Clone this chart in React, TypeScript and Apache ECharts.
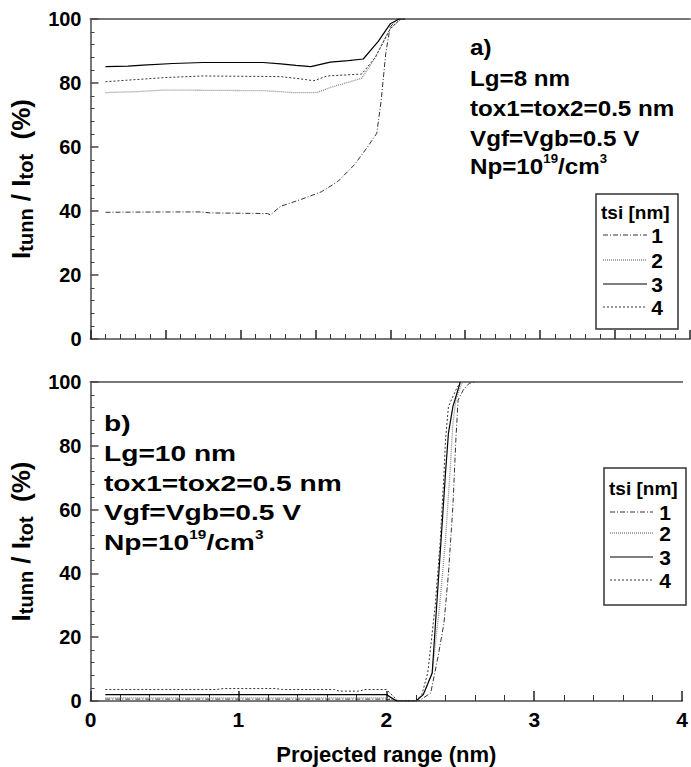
import React, { useEffect, useRef } from 'react';
import * as echarts from 'echarts';

const FONT = '"Liberation Sans", Arial, Helvetica, sans-serif';

// ---- data ----
const tsiLabels = ['1', '2', '3', '4'];
const legendTitle = 'tsi [nm]';
const xTitle = 'Projected range (nm)';
const yTitleRich = '{b|I}{s|tunn}{b| / I}{s|tot}{b|  (%)}';

// panel a) Lg = 8 nm
const aTsi1: number[][] = [
  [0.1, 39.6], [0.5, 39.7], [0.74, 39.7], [0.8, 39.4], [1.18, 39.2], [1.2, 38.8], [1.27, 41.5],
  [1.41, 43.7], [1.54, 46.0], [1.65, 49.2], [1.76, 54.4], [1.85, 60.1], [1.91, 64.3], [1.94, 74.7],
  [1.97, 89.3], [2.0, 97.6], [2.05, 100], [2.1, 100],
];
const aTsi2: number[][] = [
  [0.1, 77.0], [0.3, 77.3], [0.5, 77.8], [1.16, 77.6], [1.36, 77.0], [1.51, 77.0], [1.6, 78.6],
  [1.81, 81.5], [1.9, 88.0], [2.0, 97.0], [2.07, 100], [2.1, 100],
];
const aTsi3: number[][] = [
  [0.1, 85.1], [0.25, 85.3], [0.35, 85.6], [0.55, 86.1], [0.75, 86.4], [1.15, 86.4], [1.27, 86.0],
  [1.37, 85.5], [1.47, 85.1], [1.6, 86.5], [1.72, 87.0], [1.82, 87.5], [1.92, 93.0], [2.0, 98.5],
  [2.06, 100], [2.1, 100],
];
const aTsi4: number[][] = [
  [0.1, 80.4], [0.25, 80.9], [0.5, 81.7], [0.75, 82.2], [1.27, 82.0], [1.4, 81.3], [1.49, 80.7],
  [1.58, 82.2], [1.81, 82.8], [1.9, 88.0], [2.0, 97.0], [2.07, 100], [2.1, 100],
];

// panel b) Lg = 10 nm
const bTsi1: number[][] = [
  [0.1, 0.6], [1.0, 0.6], [2.0, 0.6], [2.08, 0], [2.22, 0], [2.3, 2.5], [2.35, 14], [2.39, 24.5],
  [2.42, 40], [2.45, 61], [2.47, 81.8], [2.485, 94.3], [2.52, 97.5], [2.56, 99.6], [2.6, 100],
];
const bTsi2: number[][] = [
  [0.1, 1.0], [2.0, 1.0], [2.08, 0], [2.21, 0], [2.26, 3], [2.31, 8.8], [2.36, 29.7], [2.4, 50.5],
  [2.43, 71.4], [2.45, 87], [2.47, 94.3], [2.51, 99.6], [2.52, 100],
];
const bTsi3: number[][] = [
  [0.1, 2.0], [2.0, 2.0], [2.07, 0], [2.2, 0], [2.25, 2], [2.31, 8.8], [2.34, 29.7], [2.37, 50.5],
  [2.4, 71.4], [2.42, 84], [2.45, 92.3], [2.5, 100],
];
const bTsi4: number[][] = [
  [0.1, 3.6], [0.85, 3.6], [0.9, 3.9], [1.25, 3.9], [1.3, 3.6], [1.65, 3.6], [1.68, 3.1], [1.82, 3.1],
  [1.85, 3.6], [2.0, 3.6], [2.08, 0], [2.2, 0], [2.24, 2], [2.28, 8.8], [2.33, 29.7], [2.365, 50.5],
  [2.39, 71.4], [2.4, 81.8], [2.42, 92.3], [2.47, 97.5], [2.5, 100],
];

const topText = ['a)', 'Lg=8 nm', 'tox1=tox2=0.5 nm', 'Vgf=Vgb=0.5 V', '{n|Np=10}{p|19}{n|/cm}{p|3}'];
const botText = ['b)', 'Lg=10 nm', 'tox1=tox2=0.5 nm', 'Vgf=Vgb=0.5 V', '{n|Np=10}{p|19}{n|/cm}{p|3}'];

// ---- styles ----
const lineStyles = [
  { color: '#333', width: 1, type: [5, 2, 1, 2] },
  { color: '#8a8a8a', width: 1.3, type: [1, 1] },
  { color: '#000', width: 1.2, type: 'solid' },
  { color: '#333', width: 1, type: [2, 2] },
];

function textLines(lines: string[], x: number, ys: number[], scaleX: number) {
  return lines.map((t, i) => ({
    type: 'text',
    x,
    y: ys[i],
    scaleX,
    style: {
      text: t,
      fontFamily: FONT,
      fontWeight: 'bold',
      fontSize: 22,
      fill: '#000',
      verticalAlign: 'middle',
      align: 'left',
      rich: {
        n: { fontFamily: FONT, fontWeight: 'bold', fontSize: 22, lineHeight: 26 },
        p: { fontFamily: FONT, fontWeight: 'bold', fontSize: 12, lineHeight: 12, verticalAlign: 'top' },
      },
    },
  }));
}

function legendBox(x: number, y: number, w: number, h: number, titleY: number, rows: number[], lx1: number, lx2: number, nx: number) {
  const els: any[] = [
    { type: 'rect', shape: { x, y, width: w, height: h }, style: { fill: '#fff', stroke: '#333', lineWidth: 1.5 } },
    {
      type: 'text', x: x + 5, y: titleY, scaleX: 1.0,
      style: { text: legendTitle, fontFamily: FONT, fontWeight: 'bold', fontSize: 19, fill: '#000', verticalAlign: 'middle' },
    },
  ];
  rows.forEach((ry, i) => {
    const ls = lineStyles[i];
    els.push({
      type: 'line',
      shape: { x1: lx1, y1: ry, x2: lx2, y2: ry },
      style: { stroke: ls.color, lineWidth: ls.width, lineDash: Array.isArray(ls.type) ? ls.type : null },
    });
    els.push({
      type: 'text', x: nx, y: ry,
      style: { text: tsiLabels[i], fontFamily: FONT, fontWeight: 'bold', fontSize: 21, fill: '#000', verticalAlign: 'middle', align: 'center' },
    });
  });
  return els;
}

const yName = {
  name: yTitleRich,
  nameLocation: 'middle' as const,
  nameGap: 55,
  nameTextStyle: {
    rich: {
      b: { fontFamily: FONT, fontWeight: 'bold', fontSize: 26, lineHeight: 29, color: '#000' },
      s: { fontFamily: FONT, fontWeight: 'bold', fontSize: 20, lineHeight: 17, color: '#000', verticalAlign: 'bottom' },
    },
  },
};

function yAxis(gridIndex: number) {
  return {
    gridIndex,
    type: 'value',
    min: 0,
    max: 100,
    interval: 20,
    ...yName,
    axisLine: { show: true, lineStyle: { color: '#777', width: 2 } },
    axisTick: { show: true, inside: true, length: 8, lineStyle: { color: '#444', width: 1.5 } },
    minorTick: { show: true, splitNumber: 5, length: 4, lineStyle: { color: '#444', width: 1 } },
    splitLine: { show: false },
    minorSplitLine: { show: false },
    axisLabel: { fontFamily: FONT, fontWeight: 'bold', fontSize: 20, color: '#000', margin: 9 },
  };
}

function topLine(gridIndex: number) {
  return {
    gridIndex,
    type: 'value',
    position: 'top',
    min: 0,
    max: 4,
    axisLine: { show: true, lineStyle: { color: '#777', width: 2 } },
    axisTick: { show: false },
    axisLabel: { show: false },
    splitLine: { show: false },
  };
}

export default function App() {
  const ref = useRef<HTMLDivElement>(null);

  useEffect(() => {
    document.body.style.margin = '0';
    const chart = echarts.init(ref.current!, undefined, { renderer: 'svg' });
    const mk = (name: string, data: number[][], i: number, axis: number) => ({
      name,
      type: 'line',
      xAxisIndex: axis * 2,
      yAxisIndex: axis,
      data,
      showSymbol: false,
      symbol: 'none',
      lineStyle: lineStyles[i],
      itemStyle: { color: lineStyles[i].color },
      z: 3,
    });
    chart.setOption({
      animation: false,
      backgroundColor: '#fff',
      grid: [
        { left: 89, top: 19, width: 601, height: 320 },
        { left: 89, top: 382, width: 601, height: 319 },
      ],
      xAxis: [
        {
          gridIndex: 0,
          type: 'value',
          min: 0,
          max: 4,
          interval: 0.5,
          axisLine: { show: true, lineStyle: { color: '#777', width: 2 } },
          axisTick: { show: true, inside: true, length: 9, lineStyle: { color: '#222', width: 1.5 } },
          minorTick: { show: true, splitNumber: 5, length: 5, lineStyle: { color: '#333', width: 1 } },
          axisLabel: { show: false },
          splitLine: { show: false },
        },
        topLine(0),
        {
          gridIndex: 1,
          type: 'value',
          min: 0,
          max: 4,
          interval: 1,
          name: xTitle,
          nameLocation: 'middle',
          nameGap: 42,
          nameTextStyle: { fontFamily: FONT, fontWeight: 'bold', fontSize: 22, color: '#000' },
          axisLine: { show: true, lineStyle: { color: '#777', width: 2 } },
          axisTick: { show: true, inside: true, length: 10, lineStyle: { color: '#222', width: 1.5 } },
          minorTick: { show: true, splitNumber: 5, length: 6, lineStyle: { color: '#333', width: 1 } },
          axisLabel: { fontFamily: FONT, fontWeight: 'bold', fontSize: 21, color: '#000', margin: 8 },
          splitLine: { show: false },
        },
        topLine(1),
      ],
      yAxis: [yAxis(0), yAxis(1)],
      series: [
        mk('a1', aTsi1, 0, 0),
        mk('a2', aTsi2, 1, 0),
        mk('a3', aTsi3, 2, 0),
        mk('a4', aTsi4, 3, 0),
        mk('b1', bTsi1, 0, 1),
        mk('b2', bTsi2, 1, 1),
        mk('b3', bTsi3, 2, 1),
        mk('b4', bTsi4, 3, 1),
      ],
      graphic: [
        ...textLines(topText, 470, [47, 78, 108, 138, 166], 1.1),
        ...textLines(botText, 104, [423, 453, 483, 512, 542], 1.28),
        ...legendBox(596, 194, 82, 135, 212, [235, 260, 284, 307], 603, 647, 657),
        ...legendBox(604, 468, 82, 137, 488, [512, 533, 557, 580], 610, 653, 665),
      ],
    });
    return () => chart.dispose();
  }, []);

  return <div ref={ref} style={{ width: 691, height: 767 }} />;
}
